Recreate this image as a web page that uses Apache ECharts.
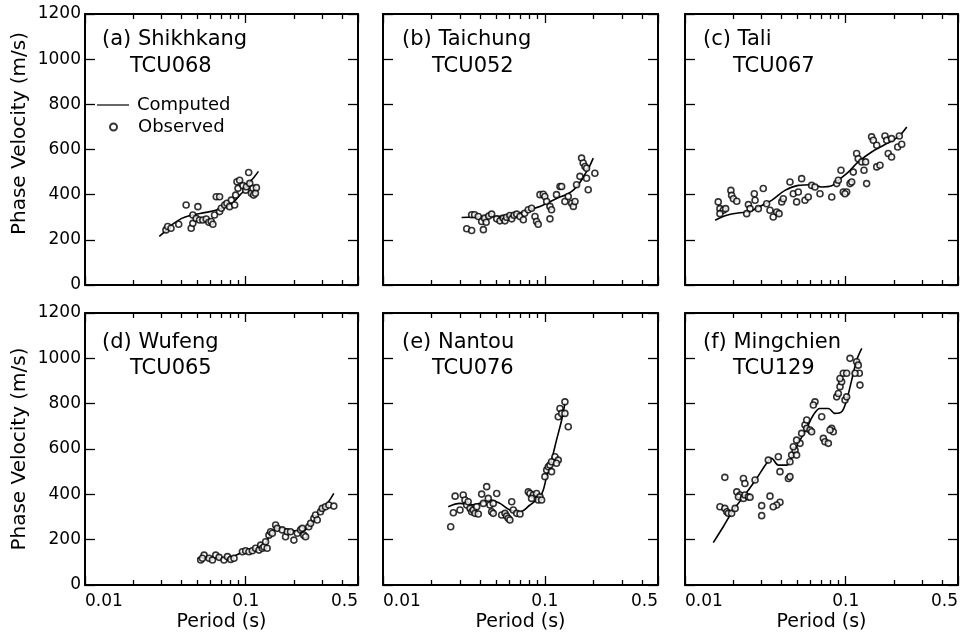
<!DOCTYPE html>
<html><head><meta charset="utf-8">
<script src="https://cdn.jsdelivr.net/npm/echarts@6/dist/echarts.min.js"></script>
<style>html,body{margin:0;padding:0;background:#fff}#c{width:980px;height:638px}</style>
</head><body><div id="c"></div>
<script>
// ---------- text ----------
const stations = ['(a) Shikhkang', '(b) Taichung', '(c) Tali', '(d) Wufeng', '(e) Nantou', '(f) Mingchien'];
const codes = ['TCU068', 'TCU052', 'TCU067', 'TCU065', 'TCU076', 'TCU129'];
const xName = 'Period (s)';
const yName = 'Phase Velocity (m/s)';
const legendNames = ['Computed', 'Observed'];
// ---------- axes ----------
const periodRange = [0.01, 0.5];
const velocityRange = [0, 1200];
const velocityStep = 200;
// ---------- data: [period (s), phase velocity (m/s)] ----------
const aComputed = [[0.029,215],[0.032,242],[0.035,268],[0.040,295],[0.045,308],[0.052,317],[0.060,325],[0.066,332],[0.073,342],[0.080,356],[0.087,378],[0.092,398],[0.100,425],[0.106,455],[0.113,478],[0.120,503]];
const aObserved = [[0.0319,244],[0.0327,259],[0.0343,251],[0.0383,269],[0.0426,354],[0.0458,251],[0.0469,273],[0.0469,310],[0.0492,295],[0.0504,347],[0.0516,288],[0.0541,288],[0.0568,292],[0.059,278],[0.061,281],[0.0625,269],[0.064,310],[0.0656,391],[0.0688,391],[0.0688,325],[0.0705,340],[0.074,354],[0.0764,362],[0.0794,347],[0.0814,376],[0.0854,354],[0.0866,398],[0.0883,457],[0.0896,428],[0.0917,464],[0.0962,440],[0.100,420],[0.101,435],[0.1044,498],[0.106,450],[0.1086,406],[0.111,428],[0.112,398],[0.115,406],[0.1166,431]];

const bComputed = [[0.0306,299],[0.042,302],[0.055,305],[0.067,315],[0.080,333],[0.095,350],[0.105,365],[0.120,385],[0.135,400],[0.150,420],[0.165,455],[0.180,500],[0.190,530],[0.199,562]];
const bObserved = [[0.0329,249],[0.0353,241],[0.0353,311],[0.0368,311],[0.0388,303],[0.0407,281],[0.0417,245],[0.0424,296],[0.0434,278],[0.045,305],[0.0469,314],[0.0504,293],[0.0528,284],[0.0553,296],[0.0567,284],[0.058,300],[0.0608,308],[0.0624,293],[0.0645,309],[0.067,314],[0.0702,303],[0.0736,289],[0.075,318],[0.079,333],[0.0828,340],[0.0869,303],[0.0889,281],[0.091,269],[0.0933,400],[0.0977,402],[0.100,392],[0.1026,370],[0.1075,348],[0.1075,293],[0.110,333],[0.118,400],[0.124,436],[0.127,436],[0.133,370],[0.1395,392],[0.1464,362],[0.150,348],[0.1535,370],[0.157,444],[0.1647,481],[0.1686,562],[0.1725,540],[0.177,525],[0.181,517],[0.181,473],[0.1853,422],[0.2037,495]];

const cComputed = [[0.0154,287],[0.0182,309],[0.022,320],[0.0248,323],[0.0286,345],[0.0346,375],[0.0419,419],[0.0507,441],[0.0614,444],[0.0709,434],[0.0819,439],[0.090,464],[0.1038,500],[0.1197,545],[0.145,589],[0.1755,622],[0.212,656],[0.240,700]];
const cObserved = [[0.0161,368],[0.0165,338],[0.0173,331],[0.0179,338],[0.0165,316],[0.0193,419],[0.0195,397],[0.020,382],[0.021,371],[0.0248,356],[0.0254,338],[0.0242,316],[0.027,404],[0.0273,375],[0.0307,427],[0.0286,338],[0.0322,360],[0.0338,331],[0.0354,301],[0.0372,323],[0.0385,316],[0.040,368],[0.0409,382],[0.045,456],[0.0472,404],[0.0507,412],[0.0495,368],[0.0532,471],[0.0558,375],[0.0585,390],[0.0614,441],[0.0644,434],[0.0692,404],[0.0819,390],[0.0879,449],[0.090,464],[0.0935,508],[0.0966,412],[0.1014,412],[0.099,404],[0.1064,449],[0.109,456],[0.1115,500],[0.117,582],[0.1197,559],[0.1259,545],[0.130,508],[0.133,545],[0.135,449],[0.156,523],[0.1635,530],[0.145,656],[0.1486,641],[0.156,619],[0.1756,660],[0.180,641],[0.193,648],[0.2157,660],[0.184,582],[0.193,567],[0.2107,611],[0.2232,623]];

const dComputed = [[0.0501,118],[0.0606,122],[0.0733,118],[0.0846,128],[0.0976,147],[0.118,154],[0.130,176],[0.1397,213],[0.150,243],[0.165,250],[0.190,243],[0.2197,235],[0.2417,250],[0.2656,287],[0.292,331],[0.322,360],[0.3535,404]];
const dObserved = [[0.0525,110],[0.0551,132],[0.0538,118],[0.0592,118],[0.0621,110],[0.0651,132],[0.0683,122],[0.0733,110],[0.077,125],[0.0807,113],[0.0846,118],[0.0954,147],[0.100,151],[0.1048,147],[0.110,151],[0.1153,162],[0.121,154],[0.124,176],[0.127,162],[0.130,169],[0.133,191],[0.136,162],[0.1396,220],[0.143,235],[0.1465,228],[0.1536,265],[0.157,250],[0.169,243],[0.177,213],[0.1815,235],[0.190,235],[0.1995,198],[0.2095,228],[0.2196,243],[0.230,220],[0.236,213],[0.225,250],[0.247,257],[0.2535,272],[0.2656,294],[0.272,309],[0.2788,287],[0.292,323],[0.2995,338],[0.314,345],[0.3294,353],[0.3536,348]];

const eComputed = [[0.0253,345],[0.0299,360],[0.0345,353],[0.0397,360],[0.0458,375],[0.0528,360],[0.0608,331],[0.0701,323],[0.0809,353],[0.0933,389],[0.0978,419],[0.1025,478],[0.110,551],[0.118,639],[0.127,728],[0.133,801]];
const eObserved = [[0.0262,257],[0.0272,319],[0.0279,392],[0.0299,331],[0.0313,397],[0.0321,375],[0.0329,353],[0.0336,367],[0.0345,338],[0.0353,323],[0.0361,331],[0.037,316],[0.0388,313],[0.0379,345],[0.0407,401],[0.0437,434],[0.0417,360],[0.0447,382],[0.0458,353],[0.048,360],[0.0504,404],[0.0469,323],[0.048,316],[0.0541,309],[0.0567,316],[0.058,304],[0.0594,294],[0.0608,287],[0.0624,367],[0.0638,331],[0.067,316],[0.0702,313],[0.079,411],[0.0809,404],[0.0848,397],[0.0889,404],[0.0933,389],[0.091,375],[0.0955,375],[0.0828,382],[0.1001,478],[0.1026,507],[0.105,522],[0.1075,529],[0.110,500],[0.110,544],[0.1155,566],[0.121,551],[0.118,537],[0.121,742],[0.124,779],[0.127,757],[0.133,757],[0.1395,698],[0.133,808]];

const fComputed = [[0.015,187],[0.0173,257],[0.020,331],[0.0231,389],[0.0279,470],[0.0322,537],[0.0346,559],[0.0381,529],[0.043,529],[0.0472,581],[0.052,639],[0.0572,691],[0.0629,750],[0.0692,779],[0.078,779],[0.0858,757],[0.0944,764],[0.1014,816],[0.109,904],[0.117,992],[0.1259,1044]];
const fObserved = [[0.0165,345],[0.0177,338],[0.0182,323],[0.0186,316],[0.0195,316],[0.0205,338],[0.0177,475],[0.021,411],[0.022,397],[0.0215,389],[0.0231,382],[0.0236,397],[0.0248,389],[0.0254,387],[0.0231,470],[0.0236,448],[0.0273,463],[0.030,350],[0.0338,392],[0.039,365],[0.0372,353],[0.0354,345],[0.030,306],[0.033,551],[0.0381,566],[0.039,500],[0.044,470],[0.045,478],[0.045,544],[0.0461,573],[0.0484,595],[0.0472,610],[0.0495,573],[0.052,625],[0.0495,639],[0.0532,669],[0.0558,706],[0.0572,728],[0.0572,691],[0.060,684],[0.0614,676],[0.0644,808],[0.0629,794],[0.0709,742],[0.0726,647],[0.0743,632],[0.078,625],[0.0818,691],[0.0837,676],[0.0799,684],[0.0879,830],[0.090,845],[0.0922,875],[0.0944,897],[0.0922,911],[0.0966,934],[0.1014,934],[0.099,816],[0.1014,830],[0.1064,1000],[0.117,985],[0.1216,934],[0.1198,970],[0.1227,882],[0.1143,934]];

const computedSets = [aComputed, bComputed, cComputed, dComputed, eComputed, fComputed];
const observedSets = [aObserved, bObserved, cObserved, dObserved, eObserved, fObserved];

// ---------- layout ----------
const FONT = 'DejaVu Sans';
const cols = [{left: 85, width: 273}, {left: 383, width: 275}, {left: 685, width: 273}];
const rows = [{top: 14, height: 271}, {top: 313, height: 272}];
const yTickLen = 10, xMajorLen = 9, xMinorLen = 5;
const titlePos = [
  [[102, 28], [130, 54.5]], [[402, 28], [432, 54.5]], [[703, 28], [733, 54.5]],
  [[102, 331], [130, 357]], [[402, 331], [432, 357]], [[703, 331], [733, 357]]
];

const black = '#000';
const grids = [], xAxes = [], yAxes = [], series = [], titles = [];
const fmtPeriod = v => String(+(+v).toPrecision(6));
const fmtVel = v => String(Math.round(v));
const lineOn = () => ({show: true, onZero: false, lineStyle: {color: black, width: 2}});
const lineOff = () => ({show: false, onZero: false});
const majorTick = len => ({show: true, length: len, lineStyle: {color: black}});
const minorTickOn = () => ({show: true, splitNumber: 9, length: xMinorLen, lineStyle: {color: black}});
const off = () => ({show: false});
const tickLine = () => ({show: true, lineStyle: {color: black, width: 1.3, type: 'solid'}});

for (let i = 0; i < 6; i++) {
  const r = Math.floor(i / 3), c = i % 3;
  const H = rows[r].height, W = cols[c].width;
  grids.push({left: cols[c].left, width: W, top: rows[r].top, height: H});
  const xCommon = {type: 'log', logBase: 10, gridIndex: i, min: periodRange[0], max: periodRange[1],
    splitLine: off(), minorSplitLine: off()};
  xAxes.push(Object.assign({}, xCommon, {
    position: 'bottom', axisLine: lineOn(), axisTick: off(), minorTick: off(),
    axisLabel: {show: r === 1, fontFamily: FONT, fontSize: 17, color: black, margin: 8,
      formatter: fmtPeriod, showMinLabel: true, showMaxLabel: true,
      alignMinLabel: 'left', alignMaxLabel: 'right'},
    name: r === 1 ? xName : '', nameLocation: 'middle', nameGap: 28,
    nameTextStyle: {fontFamily: FONT, fontSize: 19, color: black}
  }));
  // ticks pointing up from the bottom edge
  xAxes.push(Object.assign({}, xCommon, {
    position: 'top', offset: -H, axisLine: lineOff(), axisTick: majorTick(xMajorLen), minorTick: minorTickOn(),
    axisLabel: off()
  }));
  // top edge: line + ticks pointing down
  xAxes.push(Object.assign({}, xCommon, {
    position: 'bottom', offset: -H, axisLine: lineOn(), axisTick: majorTick(xMajorLen), minorTick: minorTickOn(),
    axisLabel: off()
  }));

  const yCommon = {type: 'value', gridIndex: i, min: velocityRange[0], max: velocityRange[1],
    interval: velocityStep, splitLine: off()};
  yAxes.push(Object.assign({}, yCommon, {
    position: 'left', axisLine: lineOn(), axisTick: off(),
    axisLabel: {show: c === 0, fontFamily: FONT, fontSize: 17, color: black, margin: 4, formatter: fmtVel},
    name: c === 0 ? yName : '', nameLocation: 'middle', nameGap: 55,
    nameTextStyle: {fontFamily: FONT, fontSize: 20, color: black, padding: r === 0 ? [0, 0, 0, 32] : 0}
  }));
  // right edge: line + ticks pointing left
  yAxes.push(Object.assign({}, yCommon, {position: 'left', offset: -W, axisLine: lineOn(), axisTick: majorTick(yTickLen), axisLabel: off()}));
  // ticks pointing right from the left edge
  yAxes.push(Object.assign({}, yCommon, {position: 'right', offset: -W, axisLine: lineOff(), axisTick: majorTick(yTickLen), axisLabel: off()}));

  series.push({
    type: 'line', name: legendNames[0], xAxisIndex: 3 * i, yAxisIndex: 3 * i,
    data: computedSets[i], symbol: 'none', showSymbol: false, smooth: 0.35,
    lineStyle: {color: black, width: 1.6}, itemStyle: {color: black}, z: 2, silent: true
  });
  series.push({
    type: 'scatter', name: legendNames[1], xAxisIndex: 3 * i, yAxisIndex: 3 * i,
    data: observedSets[i], symbol: 'circle', symbolSize: 6,
    itemStyle: {color: '#fff', borderColor: black, borderWidth: 1.6}, z: 3, silent: true
  });

  const ts = {fontFamily: FONT, fontSize: 21, fontWeight: 'normal', color: black, lineHeight: 24};
  titles.push({text: stations[i], left: titlePos[i][0][0], top: titlePos[i][0][1], padding: 0, textStyle: ts});
  titles.push({text: codes[i], left: titlePos[i][1][0], top: titlePos[i][1][1], padding: 0, textStyle: ts});
}

// Edge strips whose split lines act as inward ticks (same scales as the panels)
for (let i = 0; i < 6; i++) {
  const r = Math.floor(i / 3), c = i % 3;
  const H = rows[r].height, W = cols[c].width, L = cols[c].left, T = rows[r].top;
  [L, L + W - yTickLen].forEach(function (stripLeft) {
    const g = grids.length;
    grids.push({left: stripLeft, width: yTickLen, top: T, height: H});
    xAxes.push({type: 'value', gridIndex: g, min: 0, max: 1, show: false});
    yAxes.push({type: 'value', gridIndex: g, min: velocityRange[0], max: velocityRange[1], interval: velocityStep,
      axisLine: off(), axisTick: off(), axisLabel: off(), splitLine: tickLine()});
  });
  [[T + H - xMajorLen, xMajorLen, false], [T, xMajorLen, false],
   [T + H - xMinorLen, xMinorLen, true], [T, xMinorLen, true]].forEach(function (s) {
    const g = grids.length;
    grids.push({left: L, width: W, top: s[0], height: s[1]});
    xAxes.push({type: 'log', logBase: 10, gridIndex: g, min: periodRange[0], max: periodRange[1],
      axisLine: off(), axisTick: off(), axisLabel: off(),
      minorTick: {show: false, splitNumber: 9},
      splitLine: s[2] ? off() : tickLine(),
      minorSplitLine: s[2] ? {show: true, lineStyle: {color: black, width: 1.3}} : off()});
    yAxes.push({type: 'value', gridIndex: g, min: 0, max: 1, show: false});
  });
}

const chart = echarts.init(document.getElementById('c'), null, {renderer: 'canvas'});
chart.setOption({
  animation: false,
  backgroundColor: '#fff',
  title: titles,
  legend: [
    {data: [{name: legendNames[0], icon: 'rect'}], left: 97, top: 96, padding: 0, itemWidth: 32, itemHeight: 1.2,
     selectedMode: false, textStyle: {fontFamily: FONT, fontSize: 18, color: black, padding: [0, 0, 0, 3]}},
    {data: [legendNames[1]], left: 109, top: 118, padding: 0, itemWidth: 7, itemHeight: 7,
     selectedMode: false, textStyle: {fontFamily: FONT, fontSize: 18, color: black, padding: [0, 0, 0, 16]}}
  ],
  grid: grids,
  xAxis: xAxes,
  yAxis: yAxes,
  series: series
});
</script>
</body></html>
